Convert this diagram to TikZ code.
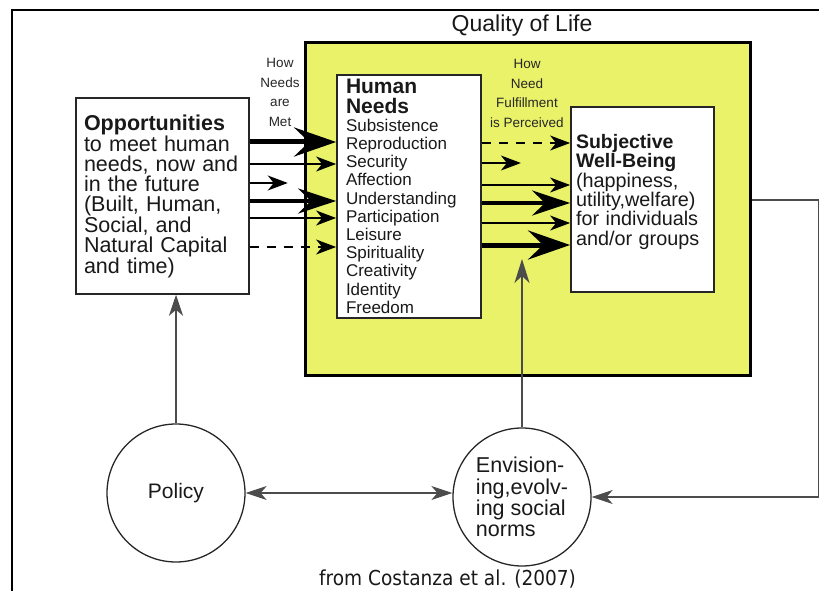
\documentclass[tikz,border=0pt]{standalone}
\usepackage{fontspec}
\setmainfont{Liberation Sans}
\newfontfamily\capfont[FakeStretch=0.9]{DejaVu Sans}
\usetikzlibrary{arrows.meta}
\definecolor{qolyellow}{RGB}{234,242,106}

\begin{document}
\begin{tikzpicture}[x=1pt,y=-1pt,
  box/.style={draw=black!85,fill=white,line width=1.8,inner sep=0pt,align=left,text=black!90},
  ring/.style={draw=black!85,circle,line width=1.3,minimum size=138,inner sep=0pt,text=black!90},
  conn/.style={draw=black!70,line width=1.2,-{Stealth[length=21pt,width=14pt,inset=6pt]}},
  needline/.style={draw=black,line width=1.5,-{Stealth[length=20pt,width=15pt,inset=6pt]}},
  needbold/.style={draw=black,line width=4,-{Stealth[length=38pt,width=25pt,inset=13pt]}},
  needheavy/.style={draw=black,line width=5,-{Stealth[length=42pt,width=29pt,inset=15pt]}},
  needdash/.style={dash pattern=on 9pt off 8pt},
  small/.style={align=center,font=\fontsize{13.5}{19.5}\selectfont,text=black!85}]
 \useasboundingbox (0,0) rectangle (819,591);
 \clip (0,0) rectangle (819,591);
 \draw[line width=2.5] (12,591) -- (12,10) -- (819,10);
 \node[draw=black,line width=3,fill=qolyellow,minimum width=445,minimum height=332,inner sep=0pt] (qol) at (527.5,209) {};
 \node[font=\fontsize{23}{23}\selectfont,text=black!90] (qoltitle) at (522,26) {Quality of Life};
 \node[box,line width=1.5,minimum width=173,minimum height=196,text width=157,font=\fontsize{21.5}{20}\selectfont] (opp) at (162.5,196)
  {{\bfseries Opportunities}\\to meet human\\needs, now and\\in the future\\(Built, Human,\\Social, and\\Natural Capital\\and time)};
 \node[box,minimum width=144,minimum height=243,text width=126,font=\fontsize{17}{18.2}\selectfont] (needs) at (409,196.5)
  {{\fontsize{21}{18.2}\selectfont\bfseries Human}\\[1pt]{\fontsize{21}{18.2}\selectfont\bfseries Needs}\\Subsistence\\Reproduction\\Security\\Affection\\Understanding\\Participation\\Leisure\\Spirituality\\Creativity\\Identity\\Freedom};
 \node[box,minimum width=143,minimum height=185,text width=133,font=\fontsize{19.8}{19.3}\selectfont] (swb) at (642.5,199.5)
  {{\fontsize{19.5}{19.3}\selectfont\bfseries Subjective}\\{\fontsize{19.5}{19.3}\selectfont\bfseries Well-Being}\\(happiness,\\utility,welfare)\\for individuals\\and/or groups\\~};
 \node[small] (metlabel) at (280,92.5) {How\\Needs\\are\\Met};
 \node[small] (perclabel) at (527,93.5) {How\\Need\\Fulfillment\\is Perceived};
 \node[ring,font=\fontsize{21}{21}\selectfont] (policy) at (176,493) {Policy};
 \node[ring,align=left,font=\fontsize{21.5}{21.3}\selectfont] (env) at (522,497) {Envision-\\ing,evolv-\\ing social\\norms};
 \node[font=\fontsize{20.6}{21}\selectfont\capfont,text=black!90] (src) at (447.5,579) {from Costanza et al. (2007)};
 \draw[needheavy] (opp.east |- 0,142) -- (needs.west |- 0,142);
 \draw[needline] (opp.east |- 0,164) -- (needs.west |- 0,164);
 \draw[needline] (opp.east |- 0,183) -- ++(38,0);
 \draw[needbold] (opp.east |- 0,201) -- (needs.west |- 0,201);
 \draw[needline] (opp.east |- 0,218) -- (needs.west |- 0,218);
 \draw[needline,needdash] (opp.east |- 0,247) -- (needs.west |- 0,247);
 \draw[needline,needdash] (needs.east |- 0,143) -- (swb.west |- 0,143);
 \draw[needline] (needs.east |- 0,163) -- ++(39,0);
 \draw[needline] (needs.east |- 0,185) -- (swb.west |- 0,185);
 \draw[needbold] (needs.east |- 0,203) -- (swb.west |- 0,203);
 \draw[needline] (needs.east |- 0,223) -- (swb.west |- 0,223);
 \draw[needheavy] (needs.east |- 0,245) -- (swb.west |- 0,245);
 \draw[conn] (policy.north) -- (policy.north |- opp.south);
 \draw[conn,-{Stealth[length=24pt,width=15pt,inset=7pt]}] (env.north) -- (env.north |- 0,259);
 \draw[conn,{Stealth[length=21pt,width=14pt,inset=6pt]}-{Stealth[length=21pt,width=14pt,inset=6pt]}] (policy.east) -- (policy.east -| env.west);
 \coordinate (rim) at (819,200);
 \draw[conn] (qol.east |- rim) -- (rim) |- (env.east);
\end{tikzpicture}
\end{document}
